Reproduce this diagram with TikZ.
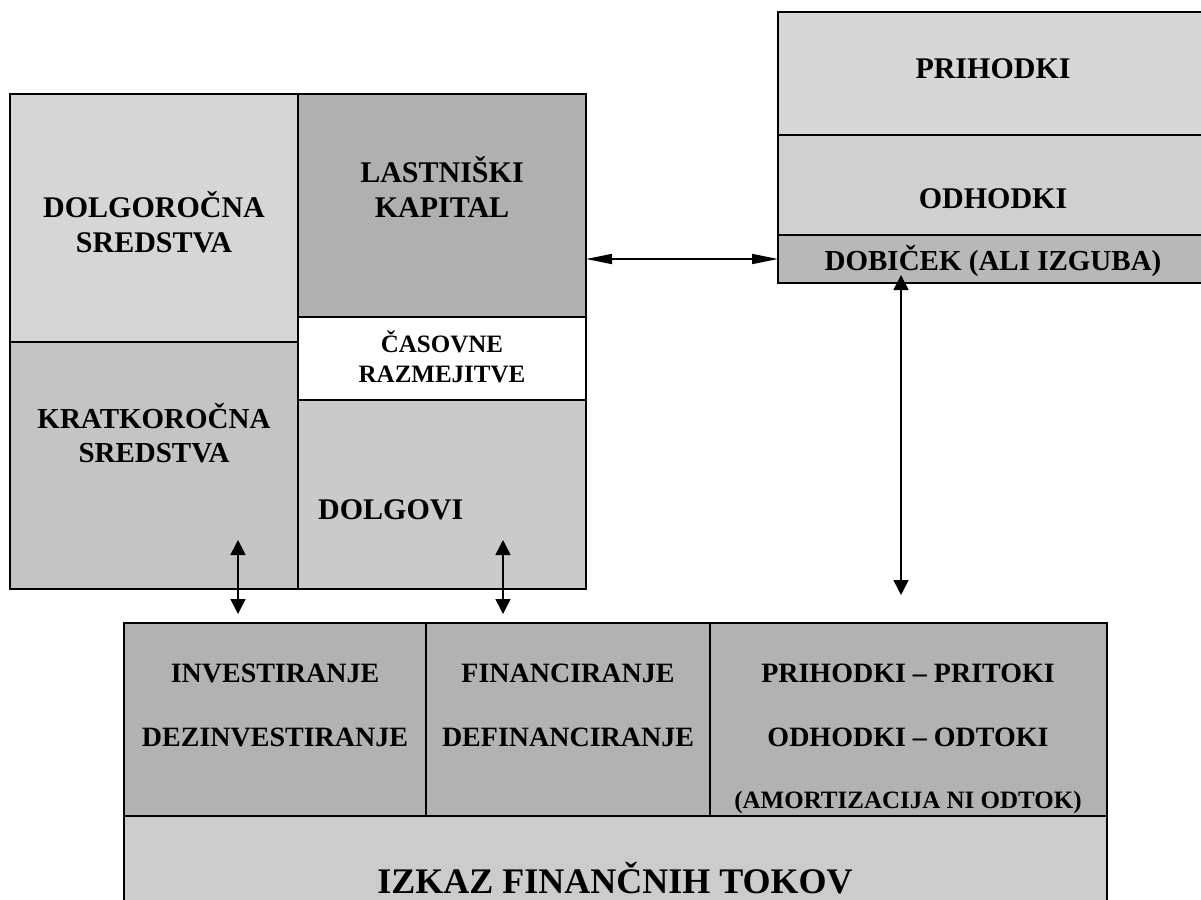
\documentclass[tikz,border=0pt]{standalone}
\usepackage{fontspec}
\setmainfont{Liberation Serif}
\usetikzlibrary{arrows.meta}
\definecolor{cDolg}{RGB}{214,214,214}
\definecolor{cLast}{RGB}{176,176,176}
\definecolor{cKrat}{RGB}{196,196,196}
\definecolor{cDolgovi}{RGB}{202,202,202}
\definecolor{cPrih}{RGB}{215,215,215}
\definecolor{cOdh}{RGB}{208,208,208}
\definecolor{cDob}{RGB}{184,184,184}
\definecolor{cBot}{RGB}{178,178,178}
\definecolor{cIzk}{RGB}{204,204,204}
\tikzset{
  cell/.style={draw=black, line width=1.6pt, inner sep=0pt, outer sep=0pt, anchor=north west},
  txt/.style={inner sep=0pt, anchor=base, font=\bfseries\fontsize{#1}{#1}\selectfont},
  txtl/.style={inner sep=0pt, anchor=base west, font=\bfseries\fontsize{#1}{#1}\selectfont},
  varrow/.style={line width=1.5pt, {Triangle[length=15pt,width=15pt]}-{Triangle[length=15pt,width=15pt]}},
  harrow/.style={line width=1.5pt, {Triangle[length=26pt,width=10pt]}-{Triangle[length=26pt,width=10pt]}}
}
\begin{document}
\begin{tikzpicture}[x=1pt,y=-1pt]
\clip (0,0) rectangle (1201,899);
\fill[white] (0,0) rectangle (1201,899);
% left block
\node[cell, fill=cDolg, minimum width=288pt, minimum height=248pt] (dolg) at (10,94) {};
\node[cell, fill=cKrat, minimum width=288pt, minimum height=247pt] (krat) at (10,342) {};
\node[cell, fill=cLast, minimum width=288pt, minimum height=223pt] (last) at (298,94) {};
\node[cell, fill=white, minimum width=288pt, minimum height=83pt] (cas) at (298,317) {};
\node[cell, fill=cDolgovi, minimum width=288pt, minimum height=189pt] (dolgovi) at (298,400) {};
% right block
\node[cell, fill=cPrih, minimum width=432pt, minimum height=123pt] (prih) at (778,12) {};
\node[cell, fill=cOdh, minimum width=432pt, minimum height=100pt] (odh) at (778,135) {};
\node[cell, fill=cDob, minimum width=432pt, minimum height=48pt] (dob) at (778,235) {};
% bottom block
\node[cell, fill=cBot, minimum width=302pt, minimum height=193pt] (inv) at (124,623) {};
\node[cell, fill=cBot, minimum width=284pt, minimum height=193pt] (fin) at (426,623) {};
\node[cell, fill=cBot, minimum width=397pt, minimum height=193pt] (pp) at (710,623) {};
\node[cell, fill=cIzk, minimum width=983pt, minimum height=95pt] (izk) at (124,816) {};
% texts
\node[txt=30] (t1a) at (154,217) {DOLGOROČNA};
\node[txt=30] (t1b) at (154,252) {SREDSTVA};
\node[txt=30] (t2a) at (442,182) {LASTNIŠKI};
\node[txt=30] (t2b) at (442,217) {KAPITAL};
\node[txt=25] (t3a) at (442,352) {ČASOVNE};
\node[txt=25] (t3b) at (442,382) {RAZMEJITVE};
\node[txt=29] (t4a) at (154,428) {KRATKOROČNA};
\node[txt=29] (t4b) at (154,462) {SREDSTVA};
\node[txtl=30] (t5) at (318,519) {DOLGOVI};
\node[txt=30] (t6) at (993,78) {PRIHODKI};
\node[txt=30] (t7) at (993,208) {ODHODKI};
\node[txt=29] (t8) at (993,270) {DOBIČEK (ALI IZGUBA)};
\node[txt=28] (t9a) at (275,682) {INVESTIRANJE};
\node[txt=28] (t9b) at (275,746) {DEZINVESTIRANJE};
\node[txt=28] (t10a) at (568,682) {FINANCIRANJE};
\node[txt=28] (t10b) at (568,746) {DEFINANCIRANJE};
\node[txt=28] (t11a) at (908,682) {PRIHODKI – PRITOKI};
\node[txt=28] (t11b) at (908,746) {ODHODKI – ODTOKI};
\node[txt=25] (t11c) at (908,808) {(AMORTIZACIJA NI ODTOK)};
\node[txt=36] (t12) at (615,893) {IZKAZ FINANČNIH TOKOV};
% arrows
\coordinate (h1) at (586,259);
\coordinate (h2) at (778,259);
\draw[harrow] (h1) -- (h2);
\coordinate (v1a) at (238,540);
\coordinate (v1b) at (238,614);
\draw[varrow] (v1a) -- (v1b);
\coordinate (v2a) at (503,540);
\coordinate (v2b) at (503,614);
\draw[varrow] (v2a) -- (v2b);
\coordinate (v3a) at (901,275);
\coordinate (v3b) at (901,595);
\draw[varrow] (v3a) -- (v3b);
\end{tikzpicture}
\end{document}
